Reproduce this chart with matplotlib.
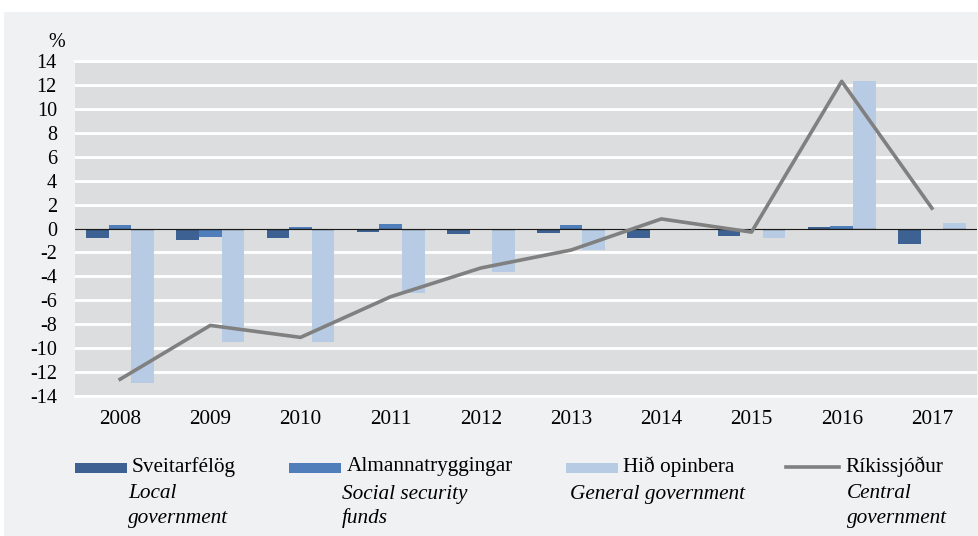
import matplotlib
matplotlib.use('Agg')
import matplotlib.pyplot as plt
import numpy as n
from matplotlib.patches import Rectangle
from matplotlib.lines import Line2D

plt.rcParams['font.family'] = ['Liberation Serif', 'DejaVu Serif']
plt.rcParams['axes.unicode_minus'] = False

years = ['2008', '2009', '2010', '2011', '2012', '2013', '2014', '2015', '2016', '2017']
sveitarfelog = [-0.8, -1.0, -0.8, -0.3, -0.5, -0.4, -0.8, -0.6, 0.1, -1.3]
almannatryggingar = [0.3, -0.7, 0.1, 0.4, 0.0, 0.3, -0.05, 0.0, 0.25, 0.0]
hid_opinbera = [-12.9, -9.5, -9.5, -5.4, -3.6, -1.8, -0.1, -0.8, 12.3, 0.5]
rikissjodur = [-12.6, -8.1, -9.1, -5.7, -3.3, -1.8, 0.8, -0.3, 12.3, 1.7]

names = ['Sveitarfélög', 'Almannatryggingar', 'Hið opinbera', 'Ríkissjóður']
names_en = [['Local', 'government'], ['Social security', 'funds'],
            ['General government'], ['Central', 'government']]
colours = ['#3D6192', '#4F7EBA', '#B7CCE4', '#808080']

FS = 15.3
W, H = 979, 536
fig = plt.figure(figsize=(W / 100, H / 100), dpi=100)
fig.patch.set_facecolor('white')
# grey panel behind everything, white strip on top
fig.add_artist(Rectangle((4 / W, 0), 1, (H - 12) / H, transform=fig.transFigure,
                         facecolor='#F0F1F3', edgecolor='none', zorder=-10))

ax = fig.add_axes([75 / W, 1 - 396 / H, 902 / W, 335 / H])
ax.set_facecolor('#DCDDDF')

x = n.arange(len(years))
bw = 0.25
ax.bar(x - bw, sveitarfelog, bw, color=colours[0], zorder=3)
ax.bar(x, almannatryggingar, bw, color=colours[1], zorder=3)
ax.bar(x + bw, hid_opinbera, bw, color=colours[2], zorder=3)
ax.plot(x, rikissjodur, color=colours[3], linewidth=2.6, zorder=4)
ax.axhline(0, color='#1a1a1a', linewidth=1.0, zorder=3.5)

ax.set_xlim(-0.5, len(years) - 0.5)
ax.set_ylim(-14, 14)
ax.set_yticks(range(-14, 15, 2))
ax.set_xticks(x)
ax.set_xticklabels(years)
ax.yaxis.grid(True, color='white', linewidth=2)
ax.set_axisbelow(True)
for s in ['left', 'right']:
    ax.spines[s].set_visible(False)
for s in ['top', 'bottom']:
    ax.spines[s].set_color('white')
    ax.spines[s].set_linewidth(2)
ax.tick_params(axis='both', length=0)
ax.tick_params(axis='y', pad=13, labelsize=14.5)
ax.tick_params(axis='x', pad=10, labelsize=FS)

fig.text(57 / W, 1 - 42 / H, '%', fontsize=14.5, ha='center', va='center')

# legend, drawn by hand: swatch, Icelandic name, English name in italics
leg_x = [75, 289, 566, 786]
name_dx = [57, 58, 57, 59]
en_dx = [53, 53, 4, 61]
for i in range(4):
    x0 = leg_x[i]
    if i < 3:
        fig.add_artist(Rectangle((x0 / W, 1 - 473 / H), 52 / W, 10.5 / H,
                                 transform=fig.transFigure, facecolor=colours[i], edgecolor='none'))
    else:
        fig.add_artist(Line2D([x0 / W, (x0 + 53) / W], [1 - 467 / H, 1 - 467 / H],
                              transform=fig.transFigure, color=colours[i], linewidth=2.6))
    fig.text((x0 + name_dx[i]) / W, 1 - 467 / H, names[i], fontsize=FS, ha='left', va='center')
    for j, line in enumerate(names_en[i]):
        fig.text((x0 + en_dx[i]) / W, 1 - (494 + 24 * j) / H, line, fontsize=FS, style='italic',
                 ha='left', va='center')

fig.savefig('out.png', dpi=100, facecolor=fig.get_facecolor())
